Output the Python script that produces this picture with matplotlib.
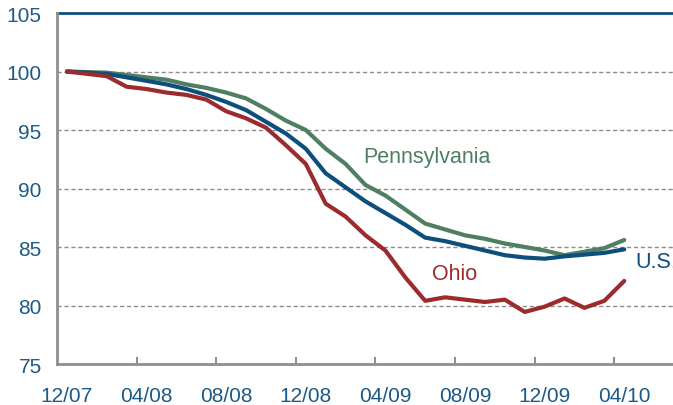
import matplotlib.pyplot as plt
import numpy as np

plt.rcParams['font.family'] = ['Liberation Sans', 'DejaVu Sans']

# monthly index levels, 12/07 = 100
months = ['12/07', '01/08', '02/08', '03/08', '04/08', '05/08', '06/08', '07/08',
          '08/08', '09/08', '10/08', '11/08', '12/08', '01/09', '02/09', '03/09',
          '04/09', '05/09', '06/09', '07/09', '08/09', '09/09', '10/09', '11/09',
          '12/09', '01/10', '02/10', '03/10', '04/10']
ohio = [100, 99.8, 99.6, 98.7, 98.5, 98.2, 98.0, 97.6, 96.6, 96.0, 95.2, 93.7,
        92.1, 88.7, 87.6, 86.0, 84.7, 82.4, 80.4, 80.7, 80.5, 80.3, 80.5, 79.45,
        79.9, 80.6, 79.8, 80.4, 82.1]
us = [100, 99.9, 99.8, 99.5, 99.2, 98.9, 98.5, 98.0, 97.4, 96.7, 95.7, 94.7,
      93.4, 91.3, 90.1, 88.9, 87.9, 86.9, 85.8, 85.5, 85.1, 84.7, 84.3, 84.1,
      84.0, 84.2, 84.35, 84.5, 84.8]
penn = [100, 99.95, 99.9, 99.7, 99.5, 99.3, 98.9, 98.6, 98.2, 97.7, 96.8, 95.8,
        95.0, 93.4, 92.1, 90.3, 89.4, 88.2, 87.0, 86.5, 86.0, 85.7, 85.3, 85.0,
        84.7, 84.3, 84.6, 84.9, 85.6]
tick_labels = ['12/07', '04/08', '08/08', '12/08', '04/09', '08/09', '12/09', '04/10']

red = '#9b2b2c'
blue = '#0d4f7c'
green = '#4f7f62'
txt = '#1c5a87'
grey = '#8a8f94'

W, H = 673, 406
fig = plt.figure(figsize=(W / 100, H / 100), dpi=100)
ax = fig.add_axes([57 / W, 1 - 365 / H, 1 - 57 / W, (365 - 14) / H])

x = np.arange(len(months))
ax.plot(x, penn, color=green, lw=3, solid_capstyle='round')
ax.plot(x, us, color=blue, lw=3, solid_capstyle='round')
ax.plot(x, ohio, color=red, lw=3, solid_capstyle='round')

ax.set_xlim(-0.5, 30.45)
ax.set_ylim(75, 105)

for v in [80, 85, 90, 95, 100]:
    ax.axhline(v, color='#8c8c8c', lw=1, ls=(0, (3, 2)), zorder=0)

for s in ['top', 'right']:
    ax.spines[s].set_visible(False)
ax.axhline(105, color=blue, lw=2, clip_on=False)
ax.spines['left'].set_color(grey)
ax.spines['left'].set_linewidth(2)
ax.spines['bottom'].set_color(grey)
ax.spines['bottom'].set_linewidth(2)

ax.set_yticks([75, 80, 85, 90, 95, 100, 105])
ax.tick_params(axis='y', length=0, pad=11, labelsize=15, labelcolor=txt)

# ticks sit between months, labels centred on months
ax.set_xticks(np.arange(3.5, 30, 4))
ax.set_xticklabels([])
ax.tick_params(axis='x', direction='in', length=5, width=1.5, color=grey)
for i, lab in enumerate(tick_labels):
    ax.text(i * 4, 73.1, lab, ha='center', va='top', fontsize=15, color=txt,
            clip_on=False)


def label(px, py, s, c):
    fig.text(px / W, 1 - py / H, s, fontsize=15.5, color=c, va='center')


label(363, 157, 'Pennsylvania', green)
label(432, 275, 'Ohio', red)
label(635, 262, 'U.S.', blue)

fig.savefig('out.png', dpi=100)
